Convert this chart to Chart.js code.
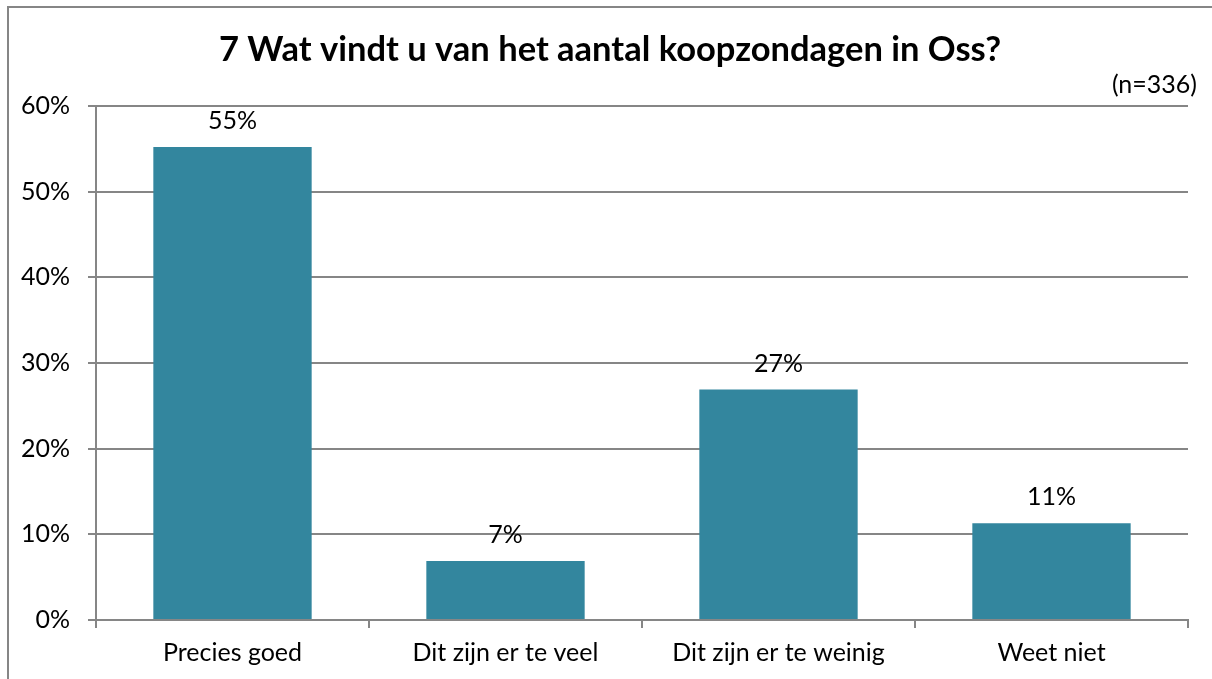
<!DOCTYPE html>
<html>
<head>
<meta charset="utf-8">
<script src="https://cdn.jsdelivr.net/npm/chart.js@4"></script>
<style>
  html, body { margin: 0; padding: 0; background: #fff; }
  #wrap { position: absolute; left: 0; top: 0; width: 1212px; height: 679px; }
</style>
</head>
<body>
<div id="wrap"><canvas id="chart" width="1212" height="679"></canvas></div>
<script>
// Antwoorden op vraag 7 (percentages)
const categories = ['Precies goed', 'Dit zijn er te veel', 'Dit zijn er te weinig', 'Weet niet'];
const values = [55.2, 6.9, 26.9, 11.3];
const valueLabels = ['55%', '7%', '27%', '11%'];
const yTicks = [0, 10, 20, 30, 40, 50, 60];

const chartTitle = '7 Wat vindt u van het aantal koopzondagen in Oss?';
const sampleNote = '(n=336)';

const fontFamily = 'Lato, "Open Sans", sans-serif';
const axisGray = '#868686';

// Frame, title, (n=336) and value labels
const extrasPlugin = {
    id: 'extras',
    afterDraw(chart) {
        const ctx = chart.ctx;
        ctx.save();
        // frame
        ctx.strokeStyle = axisGray;
        ctx.lineWidth = 2;
        ctx.beginPath();
        ctx.moveTo(8, 690);
        ctx.lineTo(8, 7);
        ctx.lineTo(1220, 7);
        ctx.stroke();

        ctx.fillStyle = '#000';
        ctx.textBaseline = 'middle';
        ctx.textAlign = 'center';
        ctx.font = 'bold 34.5px ' + fontFamily;
        ctx.fillText(chartTitle, 610, 50);

        ctx.font = '25px ' + fontFamily;
        ctx.textAlign = 'right';
        ctx.fillText(sampleNote, 1197, 85);

        // value labels above bars
        ctx.textAlign = 'center';
        const meta = chart.getDatasetMeta(0);
        meta.data.forEach((bar, i) => {
            ctx.fillText(valueLabels[i], bar.x, bar.y - 26);
        });
        ctx.restore();
    }
};

const ctx = document.getElementById('chart').getContext('2d');
new Chart(ctx, {
    type: 'bar',
    data: {
        labels: categories,
        datasets: [{
            data: values,
            backgroundColor: '#33869e',
            borderWidth: 0,
            barPercentage: 0.58,
            categoryPercentage: 1
        }]
    },
    options: {
        responsive: false,
        animation: false,
        layout: { padding: { left: 8, right: 24, top: 106, bottom: 0 } },
        plugins: {
            legend: { display: false },
            tooltip: { enabled: false },
            title: { display: false }
        },
        scales: {
            x: {
                grid: {
                    offset: true,
                    drawOnChartArea: false,
                    drawTicks: true,
                    tickLength: 8,
                    color: axisGray,
                    lineWidth: 2
                },
                border: { color: axisGray, width: 2 },
                ticks: {
                    color: '#000',
                    font: { family: fontFamily, size: 25 },
                    padding: 10,
                    maxRotation: 0
                },
                afterFit(scale) { scale.height = 59; }
            },
            y: {
                min: 0,
                max: 60,
                afterBuildTicks(scale) {
                    scale.ticks = yTicks.map(v => ({ value: v }));
                },
                grid: {
                    color: axisGray,
                    lineWidth: 2,
                    tickLength: 8
                },
                border: { color: axisGray, width: 2 },
                ticks: {
                    color: '#000',
                    font: { family: fontFamily, size: 25 },
                    padding: 18,
                    callback: v => v + '%'
                },
                afterFit(scale) { scale.width = 88; }
            }
        }
    },
    plugins: [extrasPlugin]
});
</script>
</body>
</html>
